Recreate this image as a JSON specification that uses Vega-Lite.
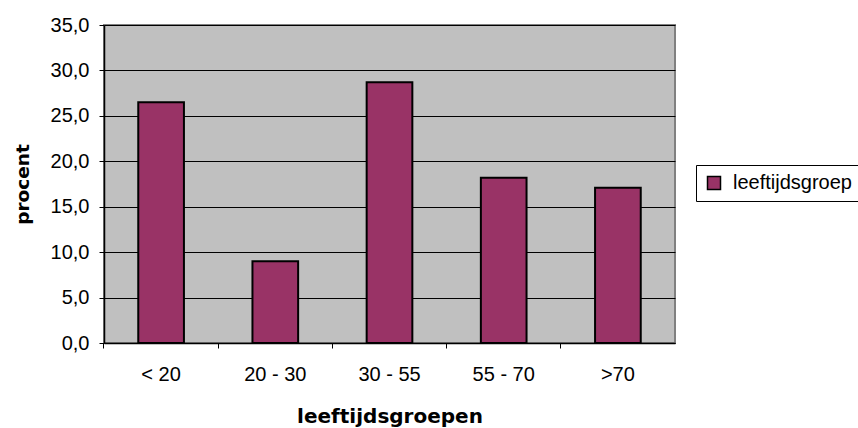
{
  "$schema": "https://vega.github.io/schema/vega-lite/v6.json",
  "width": 571,
  "height": 318,
  "autosize": "none",
  "padding": {"left": 104, "top": 25, "right": 183, "bottom": 85},
  "background": "white",
  "config": {
    "font": "Liberation Sans",
    "view": {"fill": "#C0C0C0", "stroke": "#808080", "strokeWidth": 2}
  },
  "data": {
    "values": [
      {"groep": "< 20", "procent": 26.5, "serie": "leeftijdsgroep"},
      {"groep": "20 - 30", "procent": 9.0, "serie": "leeftijdsgroep"},
      {"groep": "30 - 55", "procent": 28.7, "serie": "leeftijdsgroep"},
      {"groep": "55 - 70", "procent": 18.2, "serie": "leeftijdsgroep"},
      {"groep": ">70", "procent": 17.1, "serie": "leeftijdsgroep"}
    ]
  },
  "mark": {"type": "bar", "stroke": "black", "strokeWidth": 2},
  "encoding": {
    "x": {
      "field": "groep",
      "type": "nominal",
      "sort": null,
      "scale": {"paddingInner": 0.6, "paddingOuter": 0.3},
      "axis": {
        "title": "leeftijdsgroepen",
        "titleFont": "DejaVu Sans",
        "titleFontSize": 20,
        "titleFontWeight": "bold",
        "titleColor": "black",
        "titlePadding": 22,
        "labelAngle": 0,
        "labelFontSize": 20,
        "labelColor": "black",
        "labelPadding": 16,
        "bandPosition": -0.75,
        "domainColor": "black",
        "domainWidth": 1.5,
        "tickColor": "black",
        "tickSize": 5,
        "tickWidth": 1
      }
    },
    "y": {
      "field": "procent",
      "type": "quantitative",
      "scale": {"domain": [0, 35], "nice": false},
      "axis": {
        "title": "procent",
        "titleFont": "DejaVu Sans",
        "titleFontSize": 18.5,
        "titleFontWeight": "bold",
        "titleColor": "black",
        "titlePadding": 18,
        "values": [0, 5, 10, 15, 20, 25, 30, 35],
        "labelExpr": "replace(format(datum.value, '.1f'), '.', ',')",
        "labelFontSize": 20,
        "labelColor": "black",
        "labelPadding": 10,
        "grid": true,
        "gridColor": "black",
        "gridWidth": 1,
        "gridOpacity": 1,
        "domainColor": "black",
        "domainWidth": 1.5,
        "tickColor": "black",
        "tickSize": 5
      }
    },
    "fill": {
      "field": "serie",
      "type": "nominal",
      "scale": {"range": ["#993366"]},
      "legend": {
        "title": null,
        "orient": "none",
        "legendX": 592,
        "legendY": 140,
        "strokeColor": "black",
        "fillColor": "white",
        "padding": 8,
        "symbolType": "square",
        "symbolSize": 169,
        "symbolStrokeColor": "black",
        "symbolStrokeWidth": 1.5,
        "labelFontSize": 20,
        "labelColor": "black",
        "labelOffset": 9
      }
    }
  }
}
